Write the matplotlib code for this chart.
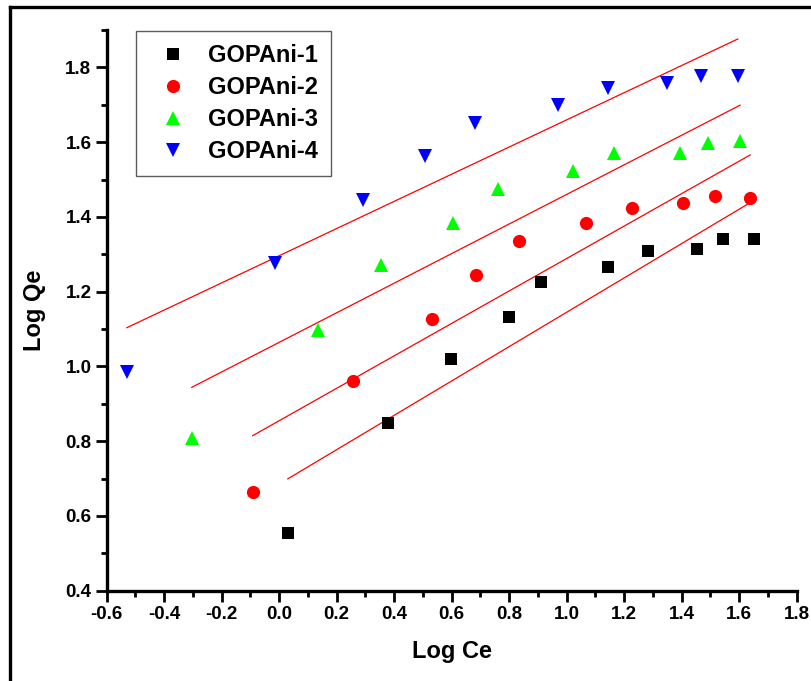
import matplotlib.pyplot as plt
import numpy as np
from matplotlib.lines import Line2D
from matplotlib.ticker import MultipleLocator

plt.rcParams['font.family'] = ['Liberation Sans', 'DejaVu Sans']
plt.rcParams['font.weight'] = 'bold'
plt.rcParams['axes.unicode_minus'] = False

# Log Ce / Log Qe
x1 = [0.03, 0.38, 0.598, 0.798, 0.911, 1.144, 1.284, 1.452, 1.545, 1.651]
y1 = [0.555, 0.848, 1.020, 1.133, 1.226, 1.266, 1.309, 1.315, 1.340, 1.342]
x2 = [-0.092, 0.256, 0.530, 0.686, 0.835, 1.067, 1.226, 1.406, 1.517, 1.638]
y2 = [0.663, 0.961, 1.126, 1.245, 1.336, 1.384, 1.425, 1.436, 1.456, 1.451]
x3 = [-0.304, 0.136, 0.353, 0.603, 0.762, 1.023, 1.166, 1.394, 1.493, 1.603]
y3 = [0.808, 1.097, 1.271, 1.384, 1.474, 1.523, 1.572, 1.570, 1.598, 1.604]
x4 = [-0.530, -0.015, 0.293, 0.507, 0.681, 0.971, 1.145, 1.348, 1.467, 1.595]
y4 = [0.986, 1.276, 1.445, 1.563, 1.650, 1.699, 1.744, 1.757, 1.777, 1.777]

labels = ['GOPAni-1', 'GOPAni-2', 'GOPAni-3', 'GOPAni-4']
series = [(x1, y1), (x2, y2), (x3, y3), (x4, y4)]
colors = ['black', '#ff0000', '#00ff00', '#0000ff']
markers = ['s', 'o', '^', 'v']
sizes = [8.5, 9.5, 10, 10]

fig = plt.figure(figsize=(8.11, 6.81), dpi=100)
ax = fig.add_axes([106.7 / 811, 1 - 590.7 / 681, 690 / 811, 560.7 / 681])

for (x, y), c, m, s, lab in zip(series, colors, markers, sizes, labels):
    x = np.array(x)
    y = np.array(y)
    # linear fit line (Freundlich)
    k, b = np.polyfit(x, y, 1)
    xf = np.array([x.min(), x.max()])
    ax.plot(xf, k * xf + b, color='#ff0000', lw=0.9, zorder=2)
    ax.plot(x, y, ls='none', marker=m, color=c, ms=s, mew=0, label=lab, zorder=3)

ax.set_xlim(-0.6, 1.8)
ax.set_ylim(0.4, 1.9)
ax.xaxis.set_major_locator(MultipleLocator(0.2))
ax.xaxis.set_minor_locator(MultipleLocator(0.1))
ax.yaxis.set_major_locator(MultipleLocator(0.2))
ax.yaxis.set_minor_locator(MultipleLocator(0.1))
ax.set_yticks(np.arange(0.4, 1.81, 0.2))

for side in ['top', 'right']:
    ax.spines[side].set_visible(False)
for side in ['left', 'bottom']:
    ax.spines[side].set_linewidth(2.4)

ax.tick_params(which='major', direction='out', length=8, width=2, labelsize=13.5, pad=3)
ax.tick_params(which='minor', direction='out', length=4.5, width=2)
for t in ax.get_xticklabels() + ax.get_yticklabels():
    t.set_fontweight('bold')

ax.set_xlabel('Log Ce', fontsize=17, fontweight='bold', labelpad=12)
ax.set_ylabel('Log Qe', fontsize=17, fontweight='bold', labelpad=14)

leg = ax.legend(loc='upper left', bbox_to_anchor=(0.0425, 0.998), borderaxespad=0,
                prop={'size': 17, 'weight': 'bold'}, frameon=True, fancybox=False,
                handletextpad=0.5, labelspacing=0.38, borderpad=0.55, handlelength=2.0)
leg.get_frame().set_edgecolor('#333333')
leg.get_frame().set_linewidth(1.0)

# outer frame around the figure
fig.add_artist(Line2D([10 / 811, 1], [1 - 6.7 / 681, 1 - 6.7 / 681], color='black', lw=2.4,
                      transform=fig.transFigure))
fig.add_artist(Line2D([10 / 811, 10 / 811], [0, 1 - 6.7 / 681], color='black', lw=2.4,
                      transform=fig.transFigure))

fig.savefig('out.png', dpi=100)
